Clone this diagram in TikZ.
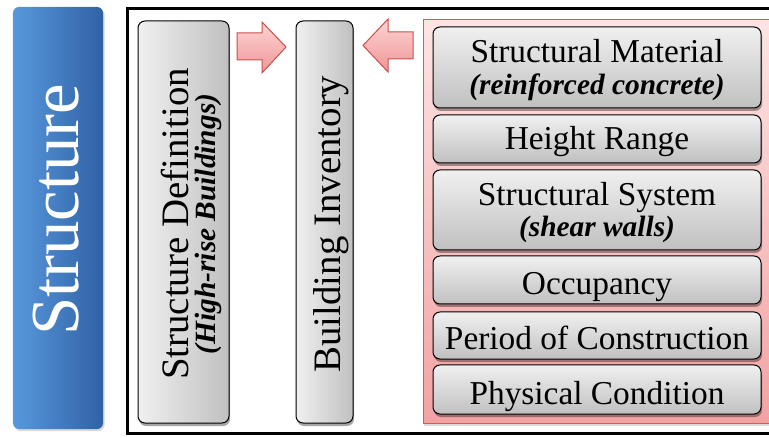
\documentclass[tikz,border=0pt]{standalone}
\usepackage{fontspec}
\setmainfont{Liberation Serif}
\usetikzlibrary{shadows}
\definecolor{bluelight}{RGB}{88,152,220}
\definecolor{bluedark}{RGB}{48,98,165}
\definecolor{graylight}{RGB}{240,240,240}
\definecolor{graydark}{RGB}{192,192,192}
\definecolor{pinklight}{RGB}{253,228,228}
\definecolor{pinkdark}{RGB}{243,162,162}
\definecolor{pinkedge}{RGB}{212,92,92}
\definecolor{arrowtop}{RGB}{252,212,212}
\definecolor{arrowbot}{RGB}{241,150,150}
\definecolor{arrowedge}{RGB}{200,80,77}
\tikzset{
  boxshadow/.style={drop shadow={shadow xshift=1bp, shadow yshift=-3bp, opacity=0.35, fill=black}},
  graybox/.style={draw=black, line width=1bp, rounded corners=7bp, boxshadow},
  hgray/.style={graybox, top color=graylight, bottom color=graydark},
  vgray/.style={graybox, left color=graylight, right color=graydark},
  blockarrow/.style={draw=arrowedge, line width=1bp, top color=arrowtop, bottom color=arrowbot},
  itemtext/.style={anchor=base, inner sep=0pt, font=\fontsize{33.5}{36}\selectfont},
  itemnote/.style={anchor=base, inner sep=0pt, font=\fontsize{29.5}{32}\selectfont\bfseries\itshape},
  vtext/.style={anchor=base, rotate=90, inner sep=0pt, font=\fontsize{39}{42}\selectfont},
  vnote/.style={anchor=base, rotate=90, inner sep=0pt, font=\fontsize{29.5}{32}\selectfont\bfseries\itshape},
}
\begin{document}
\begin{tikzpicture}[x=1bp, y=-1bp]
\useasboundingbox (0,0) rectangle (769,438);

% side banner
\node[rounded corners=6bp, left color=bluelight, right color=bluedark,
      minimum width=90bp, minimum height=422bp, inner sep=0pt,
      drop shadow={shadow xshift=1.5bp, shadow yshift=-2bp, opacity=0.3}] (banner) at (58,218) {};
\node[anchor=base, rotate=90, inner sep=0pt, text=white,
      font=\fontsize{69}{74}\selectfont] (bannertext) at (78,210) {Structure};

% outer frame
\draw[line width=3bp] (127.5,8.5) rectangle (775,433.5);

% left column boxes
\node[vgray, minimum width=91bp, minimum height=402bp, inner sep=0pt] (sdef) at (183.5,222) {};
\node[vtext] (sdeftitle) at (188,224) {Structure Definition};
\node[vnote] (sdefnote) at (215,224) {(High-rise Buildings)};

\node[vgray, minimum width=57bp, minimum height=402bp, inner sep=0pt] (binv) at (324.5,222) {};
\node[vtext] (binvtitle) at (340,224) {Building Inventory};

% attribute group
\node[top color=pinklight, bottom color=pinkdark, draw=pinkedge, line width=1bp,
      minimum width=355bp, minimum height=403bp, inner sep=0pt,
      drop shadow={shadow xshift=1bp, shadow yshift=-3bp, opacity=0.3}] (group) at (600.5,221.5) {};

\node[hgray, minimum width=328bp, minimum height=81bp, inner sep=0pt] (mat) at (597,67.5) {};
\node[itemtext] (mattitle) at (597,63) {Structural Material};
\node[itemnote] (matnote) at (597,95) {(reinforced concrete)};

\node[hgray, minimum width=328bp, minimum height=48bp, inner sep=0pt] (hgt) at (597,139) {};
\node[itemtext] (hgttitle) at (597,150) {Height Range};

\node[hgray, minimum width=328bp, minimum height=80bp, inner sep=0pt] (sys) at (597,210) {};
\node[itemtext] (systitle) at (597,206) {Structural System};
\node[itemnote] (sysnote) at (597,237) {(shear walls)};

\node[hgray, minimum width=328bp, minimum height=48bp, inner sep=0pt] (occ) at (597,280) {};
\node[itemtext] (occtitle) at (597,295) {Occupancy};

\node[hgray, minimum width=328bp, minimum height=47bp, inner sep=0pt] (per) at (597,335.5) {};
\node[itemtext] (pertitle) at (597,350) {Period of Construction};

\node[hgray, minimum width=328bp, minimum height=49bp, inner sep=0pt] (phy) at (597,389.5) {};
\node[itemtext] (phytitle) at (597,404) {Physical Condition};

% block arrows feeding the inventory
\path[blockarrow] (237,33) -- (262,33) -- (262,22) -- (286,47) -- (262,73)
  -- (262,60) -- (237,60) -- cycle;
\path[blockarrow] (413,32) -- (388,32) -- (388,19) -- (363,45.5) -- (388,72)
  -- (388,59) -- (413,59) -- cycle;
\end{tikzpicture}
\end{document}
